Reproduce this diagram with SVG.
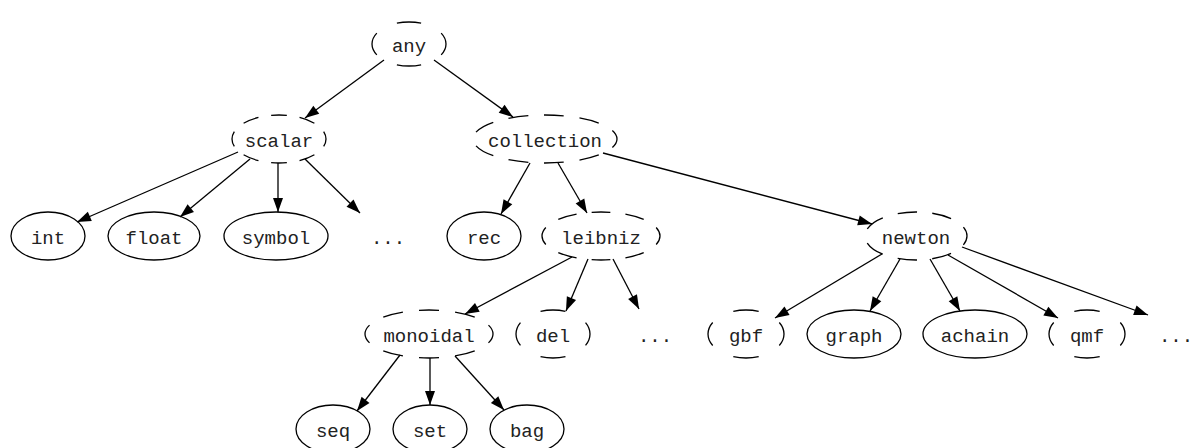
<svg xmlns="http://www.w3.org/2000/svg" width="1195" height="448" viewBox="0 0 1195 448">
<style>
  .n ellipse { fill: none; stroke: #000; stroke-width: 1.3; }
  .n text, text.t { font-family: "Liberation Mono", "Courier New", monospace; font-size: 19px; fill: #222; text-anchor: middle; }
  .d4 ellipse { stroke-dasharray: 13 12; stroke-dashoffset: 6.5; }
  .d7 ellipse { stroke-dasharray: 8 6.29; stroke-dashoffset: 4; }
  .d8 ellipse { stroke-dasharray: 7 5.5; stroke-dashoffset: 3.5; }
  .d9 ellipse { stroke-dasharray: 6.2 4.91; stroke-dashoffset: 3.1; }
  #edges line { stroke: #000; stroke-width: 1.3; marker-end: url(#ah); }
</style>
<defs>
  <marker id="ah" markerUnits="userSpaceOnUse" markerWidth="14" markerHeight="10" refX="14" refY="5" orient="auto" overflow="visible">
    <path d="M0,0 L14,5 L0,10 Z" fill="#000"/>
  </marker>
</defs>
<rect width="1195" height="448" fill="#fff"/>

<g id="edges">
  <line x1="384" y1="60" x2="305" y2="118"/>
  <line x1="434" y1="60" x2="513" y2="117"/>
  <line x1="238" y1="152" x2="77" y2="222"/>
  <line x1="250" y1="159" x2="180" y2="217"/>
  <line x1="278" y1="163" x2="278" y2="212"/>
  <line x1="305" y1="159" x2="360" y2="213"/>
  <line x1="530" y1="163" x2="501" y2="214"/>
  <line x1="558" y1="163" x2="587" y2="213"/>
  <line x1="603" y1="153" x2="872" y2="224"/>
  <line x1="572" y1="257" x2="465" y2="314"/>
  <line x1="588" y1="259" x2="566" y2="311"/>
  <line x1="613" y1="259" x2="639" y2="309"/>
  <line x1="882" y1="254" x2="775" y2="318"/>
  <line x1="900" y1="259" x2="870" y2="311"/>
  <line x1="930" y1="259" x2="960" y2="311"/>
  <line x1="948" y1="255" x2="1058" y2="318"/>
  <line x1="962" y1="247" x2="1148" y2="315"/>
  <line x1="400" y1="355" x2="357" y2="411"/>
  <line x1="430" y1="358" x2="430" y2="405"/>
  <line x1="455" y1="356" x2="504" y2="410"/>
</g>

<g id="any" class="n d4"><ellipse cx="409" cy="44" rx="37" ry="22" pathLength="100"/><text x="409" y="52">any</text></g>
<g id="scalar" class="n d8"><ellipse cx="279" cy="139" rx="47" ry="24" pathLength="100"/><text x="279" y="147">scalar</text></g>
<g id="collection" class="n d9"><ellipse cx="545" cy="139" rx="72" ry="24" pathLength="100"/><text x="545" y="147">collection</text></g>

<g id="int" class="n"><ellipse cx="48" cy="236" rx="37" ry="24"/><text x="48" y="244">int</text></g>
<g id="float" class="n"><ellipse cx="154" cy="236" rx="46" ry="24"/><text x="154" y="244">float</text></g>
<g id="symbol" class="n"><ellipse cx="276" cy="236" rx="52" ry="24"/><text x="276" y="244">symbol</text></g>
<g id="etc1"><text class="t" x="388" y="244">...</text></g>
<g id="rec" class="n"><ellipse cx="484" cy="236" rx="37" ry="24"/><text x="484" y="244">rec</text></g>
<g id="leibniz" class="n d8"><ellipse cx="601" cy="236" rx="59" ry="24" pathLength="100"/><text x="601" y="244">leibniz</text></g>
<g id="newton" class="n d7"><ellipse cx="916" cy="236" rx="51" ry="24" pathLength="100"/><text x="916" y="244">newton</text></g>

<g id="monoidal" class="n d8"><ellipse cx="429" cy="334" rx="64" ry="24" pathLength="100"/><text x="429" y="342">monoidal</text></g>
<g id="del" class="n d4"><ellipse cx="553" cy="334" rx="37" ry="24" pathLength="100"/><text x="553" y="342">del</text></g>
<g id="etc2"><text class="t" x="655" y="342">...</text></g>
<g id="gbf" class="n d4"><ellipse cx="746" cy="334" rx="38" ry="24" pathLength="100"/><text x="746" y="342">gbf</text></g>
<g id="graph" class="n"><ellipse cx="854" cy="334" rx="47" ry="24"/><text x="854" y="342">graph</text></g>
<g id="achain" class="n"><ellipse cx="975" cy="334" rx="52" ry="24"/><text x="975" y="342">achain</text></g>
<g id="qmf" class="n d4"><ellipse cx="1087" cy="334" rx="38" ry="24" pathLength="100"/><text x="1087" y="342">qmf</text></g>
<g id="etc3"><text class="t" x="1176" y="342">...</text></g>

<g id="seq" class="n"><ellipse cx="333" cy="429" rx="37" ry="24"/><text x="333" y="437">seq</text></g>
<g id="set" class="n"><ellipse cx="430" cy="429" rx="37" ry="24"/><text x="430" y="437">set</text></g>
<g id="bag" class="n"><ellipse cx="527" cy="429" rx="37" ry="24"/><text x="527" y="437">bag</text></g>
</svg>
